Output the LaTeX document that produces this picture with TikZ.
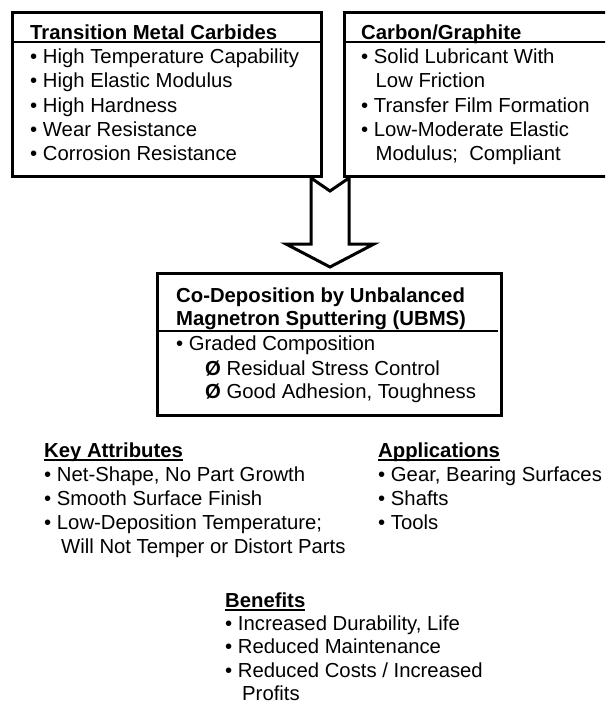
\documentclass[tikz,border=0pt]{standalone}
\usepackage{fontspec}
\setmainfont{Liberation Sans}
\tikzset{
  box/.style={draw, line width=3pt, inner sep=0pt, anchor=north west},
  hdr/.style={line width=1.5pt},
  txt/.style={anchor=base west, inner sep=0pt, font=\fontsize{20.3}{24}\selectfont},
  ttl/.style={txt, font=\fontsize{20.3}{24}\selectfont\bfseries},
  ul/.style={line width=1.4pt},
  blockarrow/.style={draw, line width=3pt, line join=miter, fill=white}
}
\begin{document}
\begin{tikzpicture}[x=1pt,y=-1pt]
\useasboundingbox (0,0) rectangle (605,704);
\clip (0,0) rectangle (605,704);
% boxes
\node[box, minimum width=308.5pt, minimum height=163.5pt] (lbox) at (11,11) {};
\node[box, minimum width=277pt, minimum height=163.5pt] (rbox) at (343,11) {};
\node[box, minimum width=343.5pt, minimum height=141.5pt] (mbox) at (156,272) {};
% header lines
\draw[hdr] (lbox.west |- 0,42) -- (lbox.east |- 0,42);
\draw[hdr] (rbox.west |- 0,42) -- (rbox.east |- 0,42);
\draw[hdr] (mbox.west |- 0,331) -- (498,331);
% left box text
\node[ttl] (lt) at (30,39) {Transition Metal Carbides};
\node[txt] (l1) at (30,63.5) {• High Temperature Capability};
\node[txt] (l2) at (30,87.8) {• High Elastic Modulus};
\node[txt] (l3) at (30,112.1) {• High Hardness};
\node[txt] (l4) at (30,136.4) {• Wear Resistance};
\node[txt] (l5) at (30,160.7) {• Corrosion Resistance};
% right box text
\node[ttl] (rt) at (361,39) {Carbon/Graphite};
\node[txt] (r1) at (361,63.5) {• Solid Lubricant With};
\node[txt] (r2) at (375.5,87.8) {Low Friction};
\node[txt] (r3) at (361,112.1) {• Transfer Film Formation};
\node[txt] (r4) at (361,136.4) {• Low-Moderate Elastic};
\node[txt] (r5) at (375.5,160.7) {Modulus;~ Compliant};
% block arrow
\draw[blockarrow] (311,178) -- (311,244) -- (286,244) -- (330,267) -- (374,244)
  -- (349,244) -- (349,178) -- (330,191) -- cycle;
% middle box text
\node[ttl] (m1) at (176,302) {Co-Deposition by Unbalanced};
\node[ttl] (m2) at (176,325) {Magnetron Sputtering (UBMS)};
\node[txt] (m3) at (176,350.5) {• Graded Composition};
\node[txt] (m4) at (205,375) {\textbf{Ø} Residual Stress Control};
\node[txt] (m5) at (205,398.5) {\textbf{Ø} Good Adhesion, Toughness};
% key attributes
\node[ttl] (ka) at (44,457) {Key Attributes};
\draw[ul] ([yshift=-3pt]ka.base west) -- ([yshift=-3pt]ka.base east);
\node[txt] (k1) at (44,481) {• Net-Shape, No Part Growth};
\node[txt] (k2) at (44,505) {• Smooth Surface Finish};
\node[txt] (k3) at (44,529.5) {• Low-Deposition Temperature;};
\node[txt] (k4) at (61,553.5) {Will Not Temper or Distort Parts};
% applications
\node[ttl] (ap) at (378,457) {Applications};
\draw[ul] ([yshift=-3pt]ap.base west) -- ([yshift=-3pt]ap.base east);
\node[txt] (a1) at (378,481) {• Gear, Bearing Surfaces};
\node[txt] (a2) at (378,505) {• Shafts};
\node[txt] (a3) at (378,529.5) {• Tools};
% benefits
\node[ttl] (bf) at (225,607) {Benefits};
\draw[ul] ([yshift=-3pt]bf.base west) -- ([yshift=-3pt]bf.base east);
\node[txt] (b1) at (225,630) {• Increased Durability, Life};
\node[txt] (b2) at (225,653.5) {• Reduced Maintenance};
\node[txt] (b3) at (225,677) {• Reduced Costs / Increased};
\node[txt] (b4) at (242,700.5) {Profits};
\end{tikzpicture}
\end{document}
